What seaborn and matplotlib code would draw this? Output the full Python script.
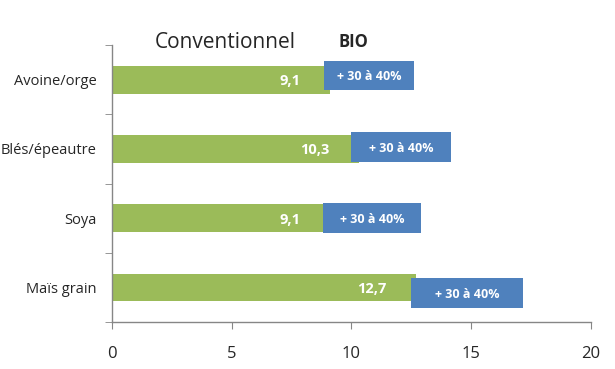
import matplotlib
matplotlib.use('Agg')
import matplotlib.pyplot as plt
import seaborn as sns
import pandas as pd
import numpy as np

# Data
cultures = ['Avoine/orge', 'Blés/épeautre', 'Soya', 'Maïs grain']
conventionnel = [9.1, 10.3, 9.1, 12.7]
bio_debut = [8.85, 10.0, 8.8, 12.5]
bio_fin = [12.6, 14.15, 12.9, 17.15]
bio_texte = ['+ 30 à 40%', '+ 30 à 40%', '+ 30 à 40%', '+ 30 à 40%']
xticks = [0, 5, 10, 15, 20]

df = pd.DataFrame({'culture': cultures, 'rendement': conventionnel})

sns.set_style('white')
plt.rcParams['font.family'] = ['Open Sans', 'DejaVu Sans']

green = '#9BBB59'
blue = '#4F81BD'
grey = '#868686'

fig = plt.figure(figsize=(6.15, 3.69), dpi=100)
ax = fig.add_axes([0.182, 0.127, 0.779, 0.751])

sns.barplot(data=df, x='rendement', y='culture', orient='h', color=green,
            width=0.40, saturation=1, linewidth=0, ax=ax)

# BIO boxes, slightly shifted vertically like in the original
shift = [-0.06, -0.03, 0.0, 0.08]
pos = np.arange(len(cultures))
ax.barh(pos + np.array(shift), np.array(bio_fin) - np.array(bio_debut),
        left=bio_debut, height=0.43, color=blue, linewidth=0, zorder=3)

for i, (v, d, f, t) in enumerate(zip(conventionnel, bio_debut, bio_fin, bio_texte)):
    ax.annotate(f'{v:.1f}'.replace('.', ','), (v, i), xytext=(-21, -1),
                textcoords='offset points', ha='right', va='center',
                color='white', fontsize=10.5, fontweight='bold', zorder=4)
    ax.text((d + f) / 2, i + shift[i] + 0.02, t, ha='center', va='center',
            color='white', fontsize=9, fontweight='bold', zorder=4)

ax.set_xlim(0, 20)
ax.set_ylim(3.5, -0.5)
ax.set_xticks(xticks)
ax.set_xticklabels([str(x) for x in xticks], fontsize=12)
ax.set_yticks(pos)
ax.set_yticklabels(cultures, fontsize=10.5)
ax.set_yticks(np.arange(-0.5, 4, 1), minor=True)
ax.set_xlabel('')
ax.set_ylabel('')

for s in ['top', 'right']:
    ax.spines[s].set_visible(False)
for s in ['left', 'bottom']:
    ax.spines[s].set_color(grey)
    ax.spines[s].set_linewidth(1)

ax.tick_params(axis='x', which='major', direction='out', length=5, color=grey,
               pad=12, bottom=True)
ax.tick_params(axis='y', which='major', length=0, pad=11)
ax.tick_params(axis='y', which='minor', direction='out', length=5, color=grey, left=True)

fig.text(155 / 615, 1 - 42 / 369, 'Conventionnel', fontsize=15, va='center', ha='left')
fig.text(338 / 615, 1 - 42 / 369, 'BIO', fontsize=12, fontweight='bold', va='center', ha='left')

fig.savefig('out.png', dpi=100)
